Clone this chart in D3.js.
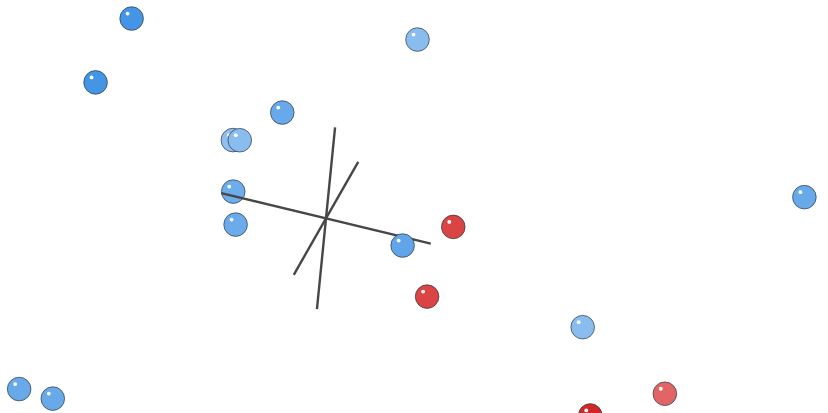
<!DOCTYPE html>
<html lang="en">
<head>
    <meta charset="UTF-8">
    <title>scatter3d</title>
    <script src="https://cdn.jsdelivr.net/npm/d3@7"></script>
    <style>
        body, html {
            margin: 0;
            padding: 0;
            overflow: hidden;
            background: #fff;
        }
        svg {
            display: block;
        }
    </style>
</head>
<body>
    <svg id="mainsvg"></svg>
    <script>
        // data: 3d coordinates (axis half length = 1)
        const xs = [-2.30, -2.48, 0.62, -0.60, -0.75, -0.72, -0.82, -0.75, 0.68, 1.12, 1.04, 4.10, 2.65, -2.30, -1.99, 3.50, 2.50];
        const ys = [0.80, 0.29, 1.97, 0.76, 1.13, 1.05, 0.24, -0.06, -0.26, 0.03, -0.51, 0.52, -0.07, -1.51, -1.56, -0.51, -1.84];
        const zs = [1.22, 0.83, 0.27, 0.38, -0.77, -0.63, -0.28, -0.35, 0.24, 0.30, -0.10, 1.37, -0.63, -1.62, -1.57, -0.72, 0.59];
        const groups = ['a', 'a', 'a', 'a', 'a', 'a', 'a', 'a', 'a', 'b', 'b', 'a', 'a', 'a', 'a', 'b', 'b'];
        const axisNames = ['x', 'y', 'z'];

        const data = xs.map((x, i) => ({ x: x, y: ys[i], z: zs[i], group: groups[i] }));

        const width = 828;
        const height = 413;
        const svg = d3.select('svg').attr('width', width).attr('height', height);

        // camera (orthographic), rows of the view rotation
        const r0 = [0.9524, 0.0824, 0.2930];
        const r1 = [0.2296, -0.8267, -0.5136];
        const r2 = [0.1999, 0.5564, -0.8063];
        const origin = [326, 218.3];
        const scale = d3.scaleLinear().domain([-1, 1]).range([-110, 110]);

        const dot = (r, p) => r[0] * p[0] + r[1] * p[1] + r[2] * p[2];
        const project = p => [origin[0] + scale(dot(r0, p)), origin[1] + scale(dot(r1, p)), dot(r2, p)];

        // depth fog: farther = lighter
        const baseColor = d3.scaleOrdinal().domain(['a', 'b']).range(['hsl(210,76%,66%)', 'hsl(0,68%,56%)']);
        const light = d3.scaleLinear().domain([-1, 1]).range([-0.075, 0.08]);
        const colorOf = d => {
            const c = d3.hsl(baseColor(d.group));
            c.l += light(d.depth);
            return c.formatHex();
        };

        const items = [];
        data.forEach(d => {
            const p = project([d.x, d.y, d.z]);
            d.sx = p[0]; d.sy = p[1]; d.depth = p[2];
            items.push({ type: 'point', depth: d.depth, d: d });
        });
        axisNames.forEach((name, i) => {
            const a = [0, 0, 0], b = [0, 0, 0];
            a[i] = -1; b[i] = 1;
            const pa = project(a), pb = project(b);
            items.push({ type: 'axis', depth: (pa[2] + pb[2]) / 2, a: pa, b: pb, name: name });
        });
        items.sort((p, q) => q.depth - p.depth);

        const mainGroup = svg.append('g');
        const R = 11.8;

        items.forEach(it => {
            if (it.type === 'axis') {
                mainGroup.append('line')
                    .attr('class', 'axis axis-' + it.name)
                    .attr('x1', it.a[0]).attr('y1', it.a[1])
                    .attr('x2', it.b[0]).attr('y2', it.b[1])
                    .attr('stroke', '#474747')
                    .attr('stroke-width', 2.4)
                    .attr('stroke-linecap', 'butt');
            } else {
                const d = it.d;
                const g = mainGroup.append('g')
                    .attr('class', 'ball')
                    .attr('transform', `translate(${d.sx}, ${d.sy})`);
                g.append('circle')
                    .attr('r', R)
                    .attr('fill', colorOf(d))
                    .attr('stroke', '#26313c')
                    .attr('stroke-opacity', 0.85)
                    .attr('stroke-width', 0.8);
                g.append('circle')
                    .attr('cx', -4)
                    .attr('cy', -5)
                    .attr('r', 1.9)
                    .attr('fill', '#fff');
            }
        });
    </script>
</body>
</html>
